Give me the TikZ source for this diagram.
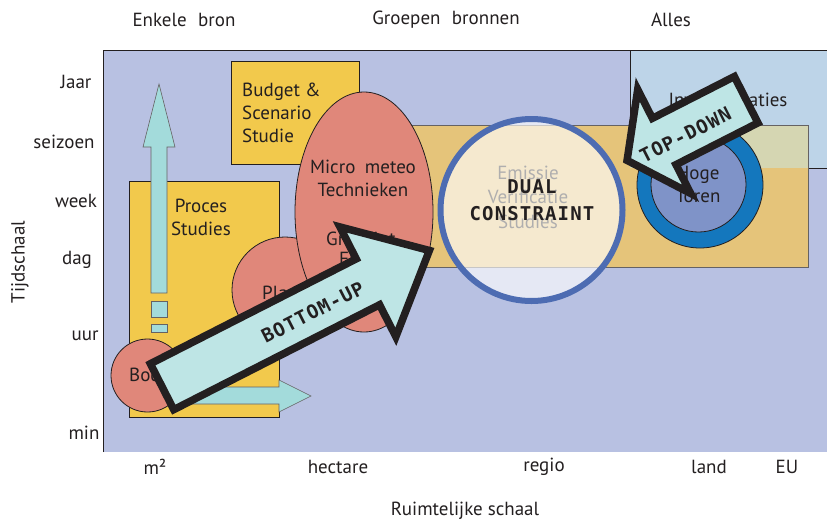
\documentclass[tikz,border=0pt]{standalone}
\usepackage{fontspec}
\setmainfont{PT Sans}
\newfontfamily\monob[LetterSpace=6]{DejaVu Sans Mono}
\definecolor{bgpurple}{HTML}{B8C1E2}
\definecolor{ltbluebox}{HTML}{BDD4E8}
\definecolor{tanbox}{HTML}{E5C47A}
\definecolor{khakibox}{HTML}{D5D6B2}
\definecolor{yellowbox}{HTML}{F2C94C}
\definecolor{salmonc}{HTML}{E0877A}
\definecolor{tealc}{HTML}{A3DBDB}
\definecolor{arrowfillc}{HTML}{BEE5E5}
\definecolor{ringblue}{HTML}{1477BD}
\definecolor{innerblue}{HTML}{7F93C8}
\definecolor{dualblue}{HTML}{4D6CB2}
\definecolor{ink}{HTML}{231F20}
\begin{document}
\begin{tikzpicture}[x=1pt,y=-1pt,
  every node/.style={font=\fontsize{19}{23}\selectfont, text=ink, inner sep=0pt},
  boxshape/.style={draw=ink, line width=0.8pt},
  blob/.style={draw=ink, line width=0.8pt, fill=salmonc},
  thinarrow/.style={fill=tealc, draw=ink!70, line width=0.6pt},
  bigarrow/.style={fill=arrowfillc, draw=ink, line width=7.5pt, line join=miter},
  arrowtext/.style={font=\monob\bfseries\fontsize{19}{27}\selectfont, text=ink}]
\useasboundingbox (0,0) rectangle (827,520);
% background field
\fill[bgpurple] (103,50) rectangle (827,452);
% light blue box
\draw[boxshape, fill=ltbluebox] (630,50) rectangle (840,168);
\node (inv) at (728,100) {Inventarisaties};
% wide tan box
\fill[tanbox] (400,125) rectangle (808,267);
\fill[khakibox] (630,125) rectangle (808,168);
\draw[draw=ink!70, line width=0.8pt] (400,125) rectangle (808,267);
\node[align=center, font=\fontsize{19}{24.5}\selectfont] (evs) at (528,197) {Emissie\\Verificatie\\Studies};
% frame lines
\draw[ink, line width=1pt] (103,452) -- (103,50) -- (840,50);
% budget box
\draw[boxshape, fill=yellowbox] (231,61) rectangle (359,164);
\node[align=left, anchor=west] (budget) at (242,113) {Budget \&\\Scenario\\Studie};
% proces box
\draw[boxshape, fill=yellowbox] (129,181) rectangle (279,417);
\node[align=center] (proces) at (201,217) {Proces\\Studies};
% thin teal arrows
\draw[thinarrow] (151,293) -- (151,147) -- (143,147) -- (159,84) -- (175,147) -- (167,147) -- (167,293) -- cycle;
\draw[thinarrow] (151,301) rectangle (167,317);
\draw[thinarrow] (151,324) rectangle (167,332);
\draw[thinarrow] (178,387) -- (279,387) -- (279,380) -- (311,396) -- (279,412) -- (279,404) -- (178,404) -- cycle;
% blobs
\draw[blob] (147.5,375.5) circle (36.5);
\node[anchor=west] (bodem) at (129,375) {Bodem};
\draw[blob] (285,290) circle (53);
\node[anchor=west] (planten) at (262,293) {Planten};
\draw[blob] (364,212) ellipse (69 and 120);
\node[align=center] (micro) at (363,178.5) {Micro\hspace{0.5em}meteo\\Technieken};
\node[anchor=west] (grad) at (326,239) {Gradiënt};
\node[anchor=west] (flux) at (339,259) {Flux};
% tall tower
\draw[draw=ink, line width=0.8pt, fill=ringblue] (700,185) circle (63);
\draw[draw=ink, line width=0.8pt, fill=innerblue] (698.5,184.5) circle (47.5);
\node[align=center] (toren) at (698,184) {Hoge\\Toren};
% dual constraint circle
\draw[fill=white, fill opacity=0.64, draw=dualblue, line width=6pt] (531.5,210) circle (91);
\node[arrowtext, align=center] (dual) at (532,200) {DUAL\\CONSTRAINT};
% bottom-up arrow
\begin{scope}[shift={(158.5,388.5)}, rotate=27]
\draw[bigarrow] (4,-25.75) -- (235,-25.75) -- (235,-61.6) -- (304,0) -- (235,61.6) -- (235,25.75) -- (4,25.75) -- cycle;
\node[arrowtext, transform shape] (bu) at (172,2) {BOTTOM-UP};
\end{scope}
% top-down arrow
\begin{scope}[shift={(749.5,98)}, rotate=207]
\draw[bigarrow] (3.75,-26) -- (95.75,-26) -- (95.75,-58.3) -- (137.4,0) -- (95.75,58.3) -- (95.75,26) -- (3.75,26) -- cycle;
\node[arrowtext, transform shape, rotate=180] (td) at (74,-3.7) {TOP-DOWN};
\end{scope}
% axis labels
\node (t1) at (184,20) {Enkele\hspace{0.6em}bron};
\node (t2) at (446,20) {Groepen\hspace{0.6em}bronnen};
\node (t3) at (671,20) {Alles};
\node (y1) at (76,82) {Jaar};
\node (y2) at (64,142) {seizoen};
\node (y3) at (76,201) {week};
\node (y4) at (77,260) {dag};
\node (y5) at (85,336) {uur};
\node (y6) at (84,433) {min};
\node[rotate=90] (ylab) at (20,262) {Tijdschaal};
\node (x1) at (155,467) {m²};
\node (x2) at (338,467) {hectare};
\node (x3) at (544,467) {regio};
\node (x4) at (709,467) {land};
\node (x5) at (787,467) {EU};
\node (xlab) at (465,511) {Ruimtelijke schaal};
\end{tikzpicture}
\end{document}
